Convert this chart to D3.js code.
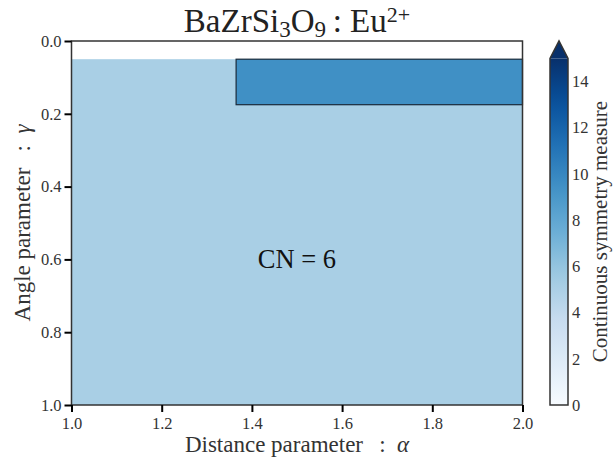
<!DOCTYPE html>
<html>
<head>
<meta charset="utf-8">
<script src="https://cdn.jsdelivr.net/npm/d3@7"></script>
<style>
  html, body { margin: 0; padding: 0; background: #fff; }
  svg, svg text { font-family: "Liberation Serif", "DejaVu Serif", serif !important; }
</style>
</head>
<body>
<svg id="chart" width="616" height="465"></svg>
<script>
// Regions of constant coordination environment in the (alpha, gamma) plane
const regionAlphaMin = [1.0, 1.365];
const regionAlphaMax = [2.0, 2.0];
const regionGammaMin = [0.05, 0.05];
const regionGammaMax = [1.0, 0.175];
const regionCSM = [5.1, 9.5];

// Coordination-number annotation
const cnLabels = ["CN = 6"];
const cnAlpha = [1.5];
const cnGamma = [0.6];

// Axis ticks
const xTicks = [1.0, 1.2, 1.4, 1.6, 1.8, 2.0];
const yTicks = [0.0, 0.2, 0.4, 0.6, 0.8, 1.0];
const cbTicks = [0, 2, 4, 6, 8, 10, 12, 14];
const csmMax = 15;

const svg = d3.select("#chart");
const margin = { left: 71.5, right: 522.5, top: 41, bottom: 405 };

const x = d3.scaleLinear().domain([1.0, 2.0]).range([margin.left, margin.right]);
const y = d3.scaleLinear().domain([0.0, 1.0]).range([margin.top, margin.bottom]);

// Blues colormap: linear through the 9-step scheme
const blues = d3.piecewise(d3.interpolateRgb, d3.schemeBlues[9]);
const color = v => blues(Math.max(0, Math.min(1, v / csmMax)));

// Plot background
svg.append("rect")
  .attr("x", margin.left).attr("y", margin.top)
  .attr("width", margin.right - margin.left)
  .attr("height", margin.bottom - margin.top)
  .attr("fill", "#fff");

// Regions
const regions = regionCSM.map((v, i) => ({
  a0: regionAlphaMin[i], a1: regionAlphaMax[i],
  g0: regionGammaMin[i], g1: regionGammaMax[i], v
}));
svg.append("g").selectAll("rect").data(regions).join("rect")
  .attr("x", d => x(d.a0))
  .attr("y", d => y(d.g0))
  .attr("width", d => x(d.a1) - x(d.a0))
  .attr("height", d => y(d.g1) - y(d.g0))
  .attr("fill", d => color(d.v))
  .attr("stroke", (d, i) => i === 0 ? "none" : "#1a2a3a")
  .attr("stroke-width", 1.2);

// Annotation
svg.append("g").selectAll("text").data(cnLabels).join("text")
  .attr("x", (d, i) => x(cnAlpha[i]))
  .attr("y", (d, i) => y(cnGamma[i]))
  .attr("text-anchor", "middle")
  .attr("dominant-baseline", "central")
  .attr("font-size", 26.5)
  .attr("fill", "#111")
  .text(d => d);

// Frame
svg.append("rect")
  .attr("x", margin.left).attr("y", margin.top)
  .attr("width", margin.right - margin.left)
  .attr("height", margin.bottom - margin.top)
  .attr("fill", "none")
  .attr("stroke", "#333")
  .attr("stroke-width", 1.5);

// Axes
const xAxis = svg.append("g")
  .attr("transform", `translate(0,${margin.bottom})`)
  .call(d3.axisBottom(x).tickValues(xTicks).tickFormat(d3.format(".1f")).tickSize(7).tickSizeOuter(0));
const yAxis = svg.append("g")
  .attr("transform", `translate(${margin.left},0)`)
  .call(d3.axisLeft(y).tickValues(yTicks).tickFormat(d3.format(".1f")).tickSize(7).tickSizeOuter(0));
[xAxis, yAxis].forEach(g => {
  g.select(".domain").remove();
  g.selectAll(".tick line").attr("stroke", "#000").attr("stroke-width", 2);
  g.selectAll(".tick text")
    .attr("font-size", 16.5)
    .attr("fill", "#333");
});
xAxis.selectAll(".tick text").attr("dy", null).attr("y", 23.5);
yAxis.selectAll(".tick text").attr("x", -10);

// Axis titles
svg.append("text")
  .attr("x", (margin.left + margin.right) / 2)
  .attr("y", 452)
  .attr("text-anchor", "middle")
  .attr("font-size", 23)
  .attr("fill", "#333")
  .html('Distance parameter\u2002\u2009:\u2002<tspan font-style="italic">α</tspan>');

svg.append("text")
  .attr("transform", `translate(30,${(margin.top + margin.bottom) / 2}) rotate(-90)`)
  .attr("text-anchor", "middle")
  .attr("font-size", 23)
  .attr("fill", "#333")
  .html('Angle parameter\u2002\u2009:\u2002<tspan font-style="italic">γ</tspan>');

// Title
const title = svg.append("text")
  .attr("x", (margin.left + margin.right) / 2)
  .attr("y", 32)
  .attr("text-anchor", "middle")
  .attr("font-size", 33)
  .attr("fill", "#222");
title.append("tspan").text("BaZrSi");
title.append("tspan").attr("font-size", 23).attr("dy", 5).text("3");
title.append("tspan").attr("dy", -5).text("O");
title.append("tspan").attr("font-size", 23).attr("dy", 5).text("9");
title.append("tspan").attr("dy", -5).text("\u2009: Eu");
title.append("tspan").attr("font-size", 22).attr("dy", -10).text("2+");

// Colorbar with an upper extension triangle
const cbX = 550, cbW = 18, cbTip = margin.top, cbBottom = margin.bottom;
const cbLen = (cbBottom - cbTip) / 1.05;
const cb = d3.scaleLinear().domain([0, csmMax]).range([cbBottom, cbBottom - cbLen]);
const cbRectTop = cb(csmMax);
const defs = svg.append("defs");
const grad = defs.append("linearGradient")
  .attr("id", "cbgrad").attr("x1", 0).attr("x2", 0).attr("y1", 1).attr("y2", 0);
d3.range(0, 1.0001, 0.05).forEach(t => {
  grad.append("stop").attr("offset", t).attr("stop-color", blues(t));
});
svg.append("rect")
  .attr("x", cbX).attr("y", cbRectTop)
  .attr("width", cbW).attr("height", cbBottom - cbRectTop)
  .attr("fill", "url(#cbgrad)");
svg.append("path")
  .attr("d", `M${cbX},${cbRectTop} L${cbX + cbW / 2},${cbTip} L${cbX + cbW},${cbRectTop} Z`)
  .attr("fill", blues(1));
svg.append("path")
  .attr("d", `M${cbX},${cbBottom} L${cbX},${cbRectTop} L${cbX + cbW / 2},${cbTip} L${cbX + cbW},${cbRectTop} L${cbX + cbW},${cbBottom} Z`)
  .attr("fill", "none")
  .attr("stroke", "#333")
  .attr("stroke-width", 1.5);

const cbAxis = svg.append("g")
  .attr("transform", `translate(${cbX + cbW},0)`)
  .call(d3.axisRight(cb).tickValues(cbTicks).tickSize(0).tickPadding(4));
cbAxis.select(".domain").remove();
cbAxis.selectAll(".tick text")
  .attr("font-size", 16.5)
  .attr("fill", "#333");

svg.append("text")
  .attr("transform", `translate(607,${(cbRectTop + cbBottom) / 2}) rotate(-90)`)
  .attr("text-anchor", "middle")
  .attr("font-size", 21)
  .attr("fill", "#333")
  .text("Continuous symmetry measure");
</script>
</body>
</html>
